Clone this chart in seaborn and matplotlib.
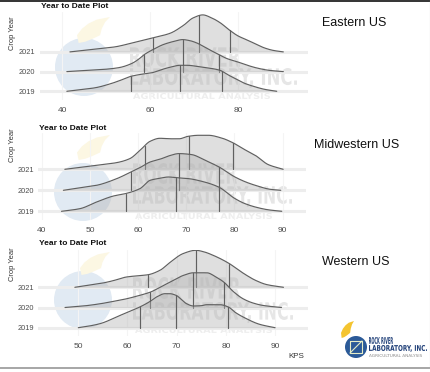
import numpy as np
import matplotlib
matplotlib.use("Agg")
import matplotlib.pyplot as plt
import seaborn as sns
from matplotlib.textpath import TextPath
from matplotlib.patches import PathPatch, Circle, Polygon
from matplotlib.font_manager import FontProperties
from matplotlib.transforms import Affine2D
from matplotlib.lines import Line2D

# ---------------------------------------------------------------- data
years = ["2019", "2020", "2021"]
regions = ["Eastern US", "Midwestern US", "Western US"]

# Eastern US: KPS values and ridge heights (relative density)
east_2021_kps = [41.8, 46, 52, 56, 60.5, 64.5, 67.6, 69.8, 72, 74, 76, 78, 80, 82, 84, 86, 88, 90.3]
east_2021_h = [0, 2, 5, 9, 14, 18.5, 26.5, 34, 37, 34, 29, 22, 16, 12, 8, 4, 1.5, 0]
east_2020_kps = [41.1, 45, 49.8, 53, 55.8, 57.3, 58.7, 61.1, 63, 65.7, 67.4, 69, 70.6, 73, 75.7, 77.5,
                 79.7, 82, 84.2, 87, 90.3]
east_2020_h = [0, 1, 2.3, 4, 8, 12, 17, 23, 27, 30.5, 32, 31, 28.7, 23, 17, 13, 10, 6.5, 3.7, 1.3, 0]
east_2019_kps = [41.1, 44, 47.5, 51, 53.6, 55.7, 58, 60.4, 62.5, 64.5, 66.8, 68.5, 70.6, 73, 75.9, 77.5,
                 79.7, 81.5, 83.5, 86, 88.8]
east_2019_h = [0, 1.5, 3.5, 7.5, 11.5, 15, 17, 18.5, 21.5, 24, 26, 26, 25, 23.5, 21, 17, 12, 8, 5, 2, 0]
east_quartiles = {"2019": [55.6, 66.8, 76.3], "2020": [58.7, 67.4, 75.7], "2021": [60.6, 71.2, 78.1]}

# Midwestern US
mid_2021_kps = [44.8, 48, 51.4, 55.6, 58.3, 60.4, 62.5, 64.5, 67, 68.5, 70.4, 72.5, 74.6, 77.3, 79.6,
                82, 84.3, 87, 90.1]
mid_2021_h = [0, 2, 4, 6.7, 10.7, 19, 28, 31, 30.5, 30.5, 33, 34, 34, 31.3, 26.7, 20, 14, 4.7, 0]
mid_2020_kps = [44.5, 48, 51.4, 55.6, 58.5, 60.5, 62.5, 64.5, 66.3, 68.5, 71.1, 73.9, 76.8, 80.1, 82.5,
                84.3, 87.4, 89.6]
mid_2020_h = [0, 2.5, 5, 11.7, 18.3, 23, 28.3, 31, 34.3, 36.7, 35.7, 30, 23.3, 13.3, 8, 5, 1, 0]
mid_2019_kps = [44.1, 48, 51.4, 54.9, 57.4, 60.4, 62.5, 64.5, 66.3, 68, 70.4, 73.2, 76.7, 80.1, 82,
                84.3, 87, 89.8]
mid_2019_h = [0, 2.7, 9.3, 15.3, 17.7, 22.7, 31, 33, 34.3, 33.5, 32.7, 30, 24.3, 12.7, 8, 4.3, 1.5, 0]
mid_quartiles = {"2019": [57.4, 67.8, 76.8], "2020": [58.5, 68.5, 76.8], "2021": [61.4, 70.6, 79.6]}

# Western US
west_2021_kps = [49.3, 52, 54.4, 57, 59.8, 62, 64.1, 66.6, 68.6, 71.3, 73.9, 75.5, 77.4, 80.7, 82.5,
                 84.2, 86, 88.3, 91.7]
west_2021_h = [0, 2, 3.7, 6.5, 10.3, 11.5, 12.5, 17, 24.7, 33.7, 37, 35.5, 32, 23.7, 17.5, 12, 7, 2.7, 0]
west_2020_kps = [47.3, 51, 54.4, 57, 59.8, 62, 64.6, 67.3, 69.5, 71.3, 73.4, 76.1, 78, 79.6, 81.5,
                 83.5, 85.5, 87.6, 91.3]
west_2020_h = [0, 1.5, 3.7, 6, 8.7, 11.5, 15.3, 22, 27.5, 32, 34.7, 34.7, 30.5, 25.3, 16, 8.7, 4.5, 2, 0]
west_2019_kps = [50, 52, 54.4, 58.5, 62.5, 64.5, 65.9, 67.6, 68.6, 69.9, 71, 72, 73.4, 75, 76.1, 78.8,
                 80.5, 82, 83.5, 86.9, 90]
west_2019_h = [0, 1.5, 4, 12.3, 20.7, 26, 30.7, 34, 34, 32.3, 28, 24, 21.7, 22, 23, 23, 20.7, 15,
               10.7, 3.3, 0]
west_quartiles = {"2019": [62.5, 69.9, 80.5], "2020": [64.6, 73.4, 79.6], "2021": [64.1, 73.9, 80.7]}

east_ticks = [40, 60, 80]
mid_ticks = [40, 50, 60, 70, 80, 90]
west_ticks = [50, 60, 70, 80, 90]

title_text = "Year to Date Plot"
y_title = "Crop Year"
x_title = "KPS"

ridges = {
    "Eastern US": {"2019": (east_2019_kps, east_2019_h), "2020": (east_2020_kps, east_2020_h),
                   "2021": (east_2021_kps, east_2021_h)},
    "Midwestern US": {"2019": (mid_2019_kps, mid_2019_h), "2020": (mid_2020_kps, mid_2020_h),
                      "2021": (mid_2021_kps, mid_2021_h)},
    "Western US": {"2019": (west_2019_kps, west_2019_h), "2020": (west_2020_kps, west_2020_h),
                   "2021": (west_2021_kps, west_2021_h)},
}
quartiles = {"Eastern US": east_quartiles, "Midwestern US": mid_quartiles, "Western US": west_quartiles}
ticks = {"Eastern US": east_ticks, "Midwestern US": mid_ticks, "Western US": west_ticks}

# ---------------------------------------------------------------- style
sns.set_theme(style="white")
plt.rcParams["font.family"] = ["Liberation Sans", "DejaVu Sans"]

W, H = 430, 372
fig = plt.figure(figsize=(W / 100, H / 100), dpi=100)
fig.patch.set_facecolor("white")
T = Affine2D().scale(1, -1).translate(0, H)   # pixel coords, origin top-left

FILL = "#b3b3b3"
LINE = "#606060"
GRID = "#ededed"
TICKC = "#4d4d4d"


def smooth(x, y, xs):
    """Monotone cubic (PCHIP) curve through the ridge points."""
    x = np.asarray(x, float)
    y = np.asarray(y, float)
    h = np.diff(x)
    d = np.diff(y) / h
    m = np.zeros_like(y)
    for k in range(1, len(x) - 1):
        if d[k - 1] * d[k] > 0:
            w1 = 2 * h[k] + h[k - 1]
            w2 = h[k] + 2 * h[k - 1]
            m[k] = (w1 + w2) / (w1 / d[k - 1] + w2 / d[k])
    m[0] = d[0]
    m[-1] = d[-1]
    xs = np.asarray(xs, float)
    i = np.clip(np.searchsorted(x, xs) - 1, 0, len(x) - 2)
    t = (xs - x[i]) / h[i]
    h00 = 2 * t**3 - 3 * t**2 + 1
    h10 = t**3 - 2 * t**2 + t
    h01 = -2 * t**3 + 3 * t**2
    h11 = t**3 - t**2
    return np.clip(h00 * y[i] + h10 * h[i] * m[i] + h01 * y[i + 1] + h11 * h[i] * m[i + 1], 0, None)


def text_box(s, x0, top, w, h, color, weight="bold", z=-1, alpha=1.0):
    """Draw text stretched into a pixel box (left, top, width, height)."""
    tp = TextPath((0, 0), s, size=10, prop=FontProperties(family="DejaVu Sans", weight=weight))
    bb = tp.get_extents()
    tr = (Affine2D().translate(-bb.x0, -bb.y0).scale(w / bb.width, h / bb.height)
          .translate(x0, H - (top + h)))
    p = PathPatch(tp, transform=tr, color=color, lw=0, zorder=z, alpha=alpha)
    fig.add_artist(p)


def flame(x0, top, w, h, color, z=-1):
    pts = np.array([(0.05, 1.0), (0.0, 0.7), (0.15, 0.45), (0.35, 0.25), (0.6, 0.1), (1.0, 0.0),
                    (0.85, 0.2), (0.75, 0.45), (0.7, 0.7), (0.45, 0.85), (0.25, 0.95)])
    pts[:, 0] = x0 + pts[:, 0] * w
    pts[:, 1] = top + pts[:, 1] * h
    fig.add_artist(Polygon(pts, closed=True, transform=T, color=color, lw=0, zorder=z))


def watermark(cx, cy, r, flame_box, t1, t2, t3):
    fig.add_artist(Circle((cx, cy), r, transform=T, color="#e1eaf3", lw=0, zorder=-2))
    flame(*flame_box, color="#fcf7e3", z=-2)
    text_box("ROCK RIVER", *t1, color="#e6e6e6")
    text_box("LABORATORY, INC.", *t2, color="#e6e6e6")
    text_box("AGRICULTURAL ANALYSIS", *t3, color="#eeeeee")


# per-panel layout in pixels: box (left, top, right, bottom), x mapping (px of ref tick, ref tick, px per KPS),
# baseline of the first year and spacing between years
layout = {
    "Eastern US": dict(box=(40, 12, 308, 100), ref=(62, 40, 4.4), base=91.3, step=19.7,
                       xpad=6.5, ypad=5, title=(41, 6.5), ylab=(13, 33.5), label=(354, 23),
                       wm=((84, 67, 29), (77, 17, 33, 26), (130, 47, 110, 20), (130, 68, 167, 20),
                           (133, 93, 137, 6))),
    "Midwestern US": dict(box=(38, 133, 306, 220), ref=(41.7, 40, 4.82), base=211.3, step=21,
                          xpad=7.5, ypad=4, title=(39, 128.5), ylab=(12.5, 145.5), label=(357, 145),
                          wm=((83, 192, 29), (77, 135, 33, 25), (133, 163, 104, 21), (133, 186, 159, 21),
                              (135, 213, 137, 6))),
    "Western US": dict(box=(38, 250, 308, 336), ref=(78.3, 50, 4.92), base=327.7, step=20.2,
                       xpad=6.5, ypad=4, title=(39, 243.5), ylab=(12, 264), label=(356, 262),
                       wm=((83, 300, 29), (80, 252, 30, 23), (133, 277, 107, 22), (133, 302, 160, 21),
                           (135, 327, 137, 6))),
}

for region in regions:
    L = layout[region]
    l, t, r, b = L["box"]
    p0, k0, ppu = L["ref"]
    watermark(*L["wm"][0], L["wm"][1], L["wm"][2], L["wm"][3], L["wm"][4])

    ax = fig.add_axes([l / W, 1 - b / H, (r - l) / W, (b - t) / H])
    ax.patch.set_alpha(0)
    for sp in ax.spines.values():
        sp.set_visible(False)
    ax.set_xlim(k0 + (l - p0) / ppu, k0 + (r - p0) / ppu)
    ax.set_ylim(L["base"] - b, L["base"] - t)

    offsets = {yr: i * L["step"] for i, yr in enumerate(years)}
    for tk in ticks[region]:
        ax.axvline(tk, color="#f4f4f4", lw=0.8, zorder=0.3)
    for yr in years:
        ax.axhline(offsets[yr], color=GRID, lw=2.2, zorder=0.5)

    # top ridge first so lower years sit in front
    for z, yr in enumerate(reversed(years)):
        kps, hh = ridges[region][yr]
        xs = np.linspace(kps[0], kps[-1], 400)
        ys = smooth(kps, hh, xs)
        off = offsets[yr]
        ax.fill_between(xs, off, off + ys, color=FILL, alpha=0.42, lw=0, zorder=1 + z)
        sns.lineplot(x=xs, y=off + ys, ax=ax, color=LINE, lw=0.85, zorder=1.1 + z,
                     estimator=None, sort=False)
        for q in quartiles[region][yr]:
            hq = smooth(kps, hh, [q])[0]
            ax.plot([q, q], [off, off + hq], color=LINE, lw=0.85, zorder=1.1 + z)

    ax.set_xticks(ticks[region])
    ax.set_xticklabels([str(v) for v in ticks[region]])
    ax.set_yticks([offsets[yr] for yr in years])
    ax.set_yticklabels(years)
    ax.tick_params(axis="x", length=0, pad=L["xpad"] * 0.72, labelsize=6, labelcolor=TICKC)
    ax.tick_params(axis="y", length=0, pad=L["ypad"] * 0.72, labelsize=5.3, labelcolor=TICKC)
    ax.set_xlabel("")
    ax.set_ylabel("")
    ax.grid(False)

    fig.text(L["title"][0], L["title"][1], title_text, transform=T, fontsize=6, fontweight="bold",
             color="#111111", ha="left", va="center")
    fig.text(L["ylab"][0], L["ylab"][1], y_title, transform=T, fontsize=5.4, color="#333333",
             rotation=90, ha="center", va="center")
    fig.text(L["label"][0], L["label"][1], region, transform=T, fontsize=9, color="#111111",
             ha="center", va="center")

fig.text(296, 357, x_title, transform=T, fontsize=5.8, color="#333333", ha="center", va="center")

# company logo, lower right
fig.add_artist(Circle((356, 347), 11, transform=T, color="#2b5a98", lw=0, zorder=2))
flame(341, 321, 13, 17, color="#f4c430", z=1.5)
fig.add_artist(Line2D([350, 362, 362, 350, 350], [341, 341, 353, 353, 341], transform=T,
                      color="#e6edc8", lw=0.8, zorder=3))
fig.add_artist(Line2D([350, 362], [353, 341], transform=T, color="#e6edc8", lw=0.8, zorder=3))
text_box("ROCK RIVER", 369, 337, 24, 7, color="#1f3f78", z=3)
text_box("LABORATORY, INC.", 369, 345, 58, 7, color="#1f3f78", z=3)
text_box("AGRICULTURAL ANALYSIS", 369, 354, 53, 3, color="#8a8a8a", weight="normal", z=3)

# slide frame
fig.add_artist(Line2D([0, W], [0.6, 0.6], transform=T, color="#111111", lw=1.2, zorder=5))
fig.add_artist(Line2D([0, W], [367.5, 367.5], transform=T, color="#a6a6a6", lw=1.4, zorder=5))
fig.add_artist(Line2D([429.5, 429.5], [0, 368], transform=T, color="#c8c8c8", lw=0.8, zorder=5))

fig.savefig("out.png", dpi=100, facecolor="white")
